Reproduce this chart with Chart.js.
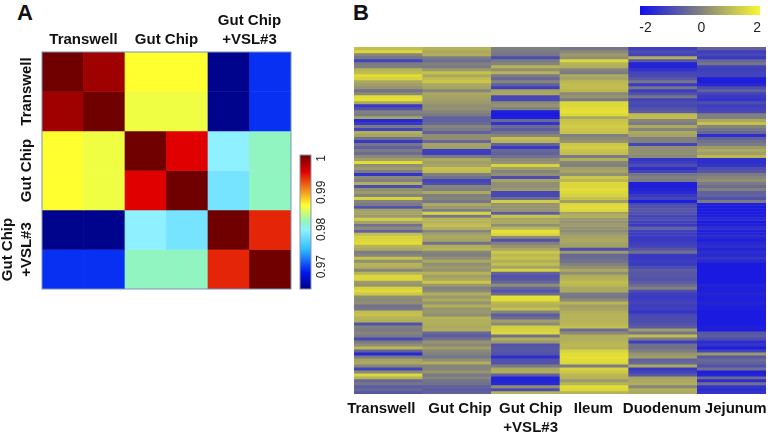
<!DOCTYPE html>
<html>
<head>
<meta charset="utf-8">
<script src="https://cdn.jsdelivr.net/npm/chart.js@4/dist/chart.umd.min.js"></script>
<style>
    body { margin: 0; background: #fff; width: 768px; height: 434px; overflow: hidden; position: relative; }
    canvas { position: absolute; }
    .panel { position: absolute; font: bold 22px "Liberation Sans", Arial, sans-serif; color: #111; line-height: 23px; }
</style>
</head>
<body>
<div class="panel" style="left:17px;top:1px">A</div>
<div class="panel" style="left:353px;top:1px">B</div>
<canvas id="corrChart" width="298" height="296" style="left:0;top:0"></canvas>
<canvas id="corrBar" width="50" height="150" style="left:296px;top:148px"></canvas>
<canvas id="exprChart" width="424" height="394" style="left:344px;top:40px"></canvas>
<canvas id="exprBar" width="138" height="40" style="left:630px;top:0"></canvas>
<script>
// panel A, correlation between samples
const corrGroups = ["Transwell", "Gut Chip", ["Gut Chip", "+VSL#3"]];
const corrSamples = ["T1", "T2", "G1", "G2", "V1", "V2"];
const corrRow1 = [1, 0.9981, 0.9865, 0.9865, 0.9645, 0.9694];
const corrRow2 = [0.9981, 1, 0.9859, 0.9859, 0.9645, 0.9694];
const corrRow3 = [0.9865, 0.9859, 1, 0.9955, 0.9798, 0.982];
const corrRow4 = [0.9865, 0.9859, 0.9955, 1, 0.9785, 0.982];
const corrRow5 = [0.9645, 0.9645, 0.9798, 0.9785, 1, 0.9942];
const corrRow6 = [0.9694, 0.9694, 0.982, 0.982, 0.9942, 1];
const corrRows = [corrRow1, corrRow2, corrRow3, corrRow4, corrRow5, corrRow6];
const corrTicks = [1, 0.99, 0.98, 0.97];
const corrMin = 0.964;
const corrMax = 1;

// panel B, expression by column, one value per row from top to bottom
const exprLabels = ["Transwell", "Gut Chip", ["Gut Chip", "+VSL#3"], "Ileum", "Duodenum", "Jejunum"];
const transwell = [
    1.2,1.7,.1,-.2,-1.2,-.1,0,1,1.2,1.8,1.6,.8,.6,.4,-.3,.2,1.8,1.9,.8,-1.4,
    -.9,0,-.1,.7,-1.7,-1.4,-.1,-1.2,.9,.7,-.3,-1.4,-.2,-.6,-.1,-.4,.2,.6,1.8,.3,
    .5,-.1,-1.5,.2,0,.9,-1,.3,.5,.1,1.6,.1,-.1,-.9,.6,.7,.5,1.5,.7,-.3,
    .2,-.6,1.2,1.6,1.7,1.8,1,.8,-.1,.1,1.3,.3,1,.9,.1,1,1.7,1.7,.5,.4,
    1.6,1.8,1.4,.3,.2,.3,-.3,-.2,1.2,1.3,1,.9,-.9,0,-.1,.1,-.1,-1.1,-.1,.3,
    1.1,-.6,-1.7,-.1,.7,.8,.1,-1.2,.2,1.7,1,-.5,-.2,-.7,-.5,-.8
];
const gutChip = [
    1,.8,.9,-.1,-.4,0,-.1,.5,1.3,.8,1.2,1.4,.8,.7,.1,.8,.7,.6,.5,.3,
    .4,.1,-.1,-.6,-.6,-.5,.1,-.1,-.6,.3,.3,-.5,.7,.6,-1.3,-1.3,-.1,.8,.6,.7,
    1.3,1.2,0,-.3,-1.2,-1,.1,0,.8,0,.1,-.2,.8,.5,-.1,1.6,-.2,1,1,1.2,
    .9,.1,.6,.8,.7,-.3,.9,1,.1,0,.3,.8,.3,.5,.4,1,.6,.8,1.4,.5,
    0,.2,.9,.5,.8,.4,.9,.4,.5,.3,1,.9,.9,.8,.9,-.5,-.7,-.3,.4,.2,
    .6,.2,0,-.2,.3,.9,.1,.1,.4,-.1,.1,-.2,-.3,-.6,-.7,-.6
];
const gutChipVsl = [
    0,-.1,-.2,-1,-.1,.1,1,.3,1,-.1,-.5,.1,-.6,-1.3,.7,.8,-1.1,-1.1,.2,.4,
    0,-1.9,-2,-1.9,-.5,-1.5,-.4,-.7,-.3,.1,1.2,1,-.6,-1.4,-.5,-.6,-.3,.2,.4,1.6,
    .6,.1,.3,-1,.7,.3,.3,.5,-1.1,-1.1,-.4,1.5,.4,.4,.4,-.7,1.3,.7,.8,.3,
    1,1.9,1.7,.2,-.9,0,.4,.8,1.4,1.1,1.3,.9,1.2,.7,1.6,-.6,-.9,-.8,-.5,.3,
    -.5,-.9,-.4,1.9,1.8,1.1,.9,1.3,.1,-.7,-.4,.6,.2,1.5,1.6,1.7,-.3,.9,.5,-.9,
    -.8,-.8,-.9,-1.6,-.9,-.9,-.1,.8,.9,-.6,-1.8,-1.8,-1.7,.3,-1,1
];
const ileum = [
    -.2,.2,.5,.3,1.7,1,.9,.1,-.1,.8,.7,1.1,1.2,1.2,1.1,.2,.4,-.1,1.7,1.7,
    1.8,1.9,1.7,.8,1.3,1.4,1.5,1.4,1.3,0,.2,.4,1.4,1.5,1.3,1.2,-.1,.9,.1,0,
    .6,.7,.3,1.4,1.1,1.7,1.7,1.8,1.7,1.6,1.3,.6,1.7,1.8,1.7,.7,.9,.5,.4,.5,
    .4,.2,.5,.7,.8,.7,.6,-1,.5,-.5,-.4,-.3,0,.3,.8,.3,.9,1,1.2,1.1,
    .8,.8,-.1,-.2,.2,1,.6,.7,.9,1,1,1,1.1,1.2,-.4,.2,.9,.9,1,1.1,
    1,1.6,1.8,1.9,1.8,1.7,-.1,1.6,1.4,1.1,1,.5,1,1.8,1.7,1
];
const duodenum = [
    -1.3,-1,-1.2,.9,-.8,-1.8,-1.8,-1.5,-1.2,-1.1,-.8,-.2,-1.4,-.2,-1.3,-.9,-.2,-1.2,-1,-1.1,
    -.9,-.7,1.2,1.2,.1,-.1,.8,.1,.8,.7,0,0,-1.2,.3,.3,.3,.2,-1.5,-1.3,-1,
    -1.6,-1.2,-.2,0,-.1,-1.9,-1.9,-1.8,-1.7,-1.4,-1.2,-1.9,-1.1,-.9,-.8,-.9,-1.2,-1,-1.2,-1.4,
    -.6,-1.3,-1.3,-1.4,-1.4,-1.3,-1.2,-.8,-.3,-1.4,-1.4,-1.3,-1.4,-1,-.7,-.8,-.8,-.9,-.7,-.4,
    0,-1,-1.3,-1.4,-1.3,-1.2,-1.3,-1.3,-1.5,-1.1,-1,-1,-.9,-.7,.6,-.2,1.2,-.1,-1.3,-.3,
    -.3,0,.4,.6,-.6,-.5,.8,-1.4,-1.2,-.8,.7,.8,.9,.1,.9,.8
];
const jejunum = [
    -.6,-1.3,-1.1,-1.4,-.5,-.2,-1.2,-1.3,-1.2,-1.2,-1.9,-1.9,-1.7,-1,-.6,-1.2,-1.4,-1.5,-1,-1.3,
    -1.2,-1.1,0,0,.8,1.3,.1,-.2,-.5,-1.6,-.6,-.3,-.1,.5,.8,.6,1.1,-1.6,-1.6,-1.5,
    -1,-.8,-.1,.1,.3,-.1,-.4,0,-.6,-.6,-.9,-.1,-1.9,-2,-2,-2,-1.9,-1.7,-2,-1.9,
    -1.6,-1.9,-1.8,-1.7,-1.9,-1.7,-1.6,-1.8,-1.6,-1.7,-1.5,-1.7,-2,-2,-2,-2,-2,-2,-2,-1.8,
    -1.9,-1.9,-1.8,-1.9,-1.9,-1.8,-1.9,-1.9,-2,-2,-2,-2,-2,-1.9,-1.9,-.8,-.7,-1,-1.6,-1.5,
    -1.9,-1.2,.5,-.8,-.4,-.6,-.9,-.3,-1.9,-1.8,-.4,-1.6,-.3,-1.5,-1.6,-1.5
];
const exprColumns = [transwell, gutChip, gutChipVsl, ileum, duodenum, jejunum];
const exprTicks = [-2, 0, 2];
const exprLegendRange = [-2.2, 2.1];

// colours, the reference has a washed out jet map so the stops are picked from it
const textFont = '"Liberation Sans", Arial, sans-serif';
const jetStops = ["#000080", "#0018f0", "#30c0ff", "#90f0ff", "#90f5c0", "#ffff30", "#e00000", "#700000"];
const jetPositions = [0, 0.125, 0.3, 0.44, 0.5, 0.625, 0.875, 1];
const exprBlue = [26, 26, 224];
const exprGrey = [128, 128, 128];
const exprYellow = [236, 230, 48];

function hexToRgb(hex) {
    return [1, 3, 5].map(i => parseInt(hex.slice(i, i + 2), 16));
}

function mix(a, b, t) {
    const c = a.map((v, i) => Math.round(v + (b[i] - v) * t));
    return `rgb(${c[0]},${c[1]},${c[2]})`;
}

function jetColor(value) {
    const t = (value - corrMin) / (corrMax - corrMin);
    for (let i = 1; i < jetPositions.length; i++) {
        if (t <= jetPositions[i]) {
            const f = (t - jetPositions[i - 1]) / (jetPositions[i] - jetPositions[i - 1]);
            return mix(hexToRgb(jetStops[i - 1]), hexToRgb(jetStops[i]), f);
        }
    }
    return jetStops[jetStops.length - 1];
}

function exprColor(value) {
    return value < 0 ? mix(exprGrey, exprBlue, -value / 2) : mix(exprGrey, exprYellow, value / 2);
}

// draws the rotated y labels and the frame, the library has no rotated y ticks
const extras = {
    id: "extras",
    afterDatasetsDraw(chart, args, opts) {
        const { ctx, chartArea } = chart;
        ctx.save();
        if (opts.frame) {
            ctx.strokeStyle = opts.frame;
            ctx.lineWidth = 1;
            ctx.strokeRect(chartArea.left, chartArea.top, chartArea.width, chartArea.height);
        }
        ctx.fillStyle = opts.color || "#111";
        ctx.font = opts.font || `bold 15px ${textFont}`;
        ctx.textBaseline = "middle";
        (opts.side || []).forEach(item => {
            const y = chart.scales.y.getPixelForValue(item.value);
            [].concat(item.text).forEach((line, i, lines) => {
                ctx.save();
                ctx.translate(item.x - (lines.length - 1 - i) * 19, y);
                ctx.rotate(-Math.PI / 2);
                ctx.textAlign = item.align || "center";
                ctx.fillText(line, 0, 0);
                ctx.restore();
            });
        });
        ctx.textAlign = "center";
        (opts.bottom || []).forEach((item, n) => {
            const x = chart.scales.x.getPixelForValue(n) + item.nudge;
            [].concat(item.text).forEach((line, i) => {
                ctx.fillText(line, x, chartArea.bottom + 15 + i * 19);
            });
        });
        ctx.restore();
    }
};

// one stacked dataset per row, every bar is one cell
function rowDatasets(labels, rows, colorFn) {
    return rows.map(row => ({
        data: labels.map(() => 1),
        backgroundColor: row.map(colorFn),
        borderWidth: 0,
        barPercentage: 1,
        categoryPercentage: 1
    }));
}

const off = { legend: { display: false }, tooltip: { enabled: false } };

new Chart(document.getElementById("corrChart"), {
    type: "bar",
    data: { labels: corrSamples, datasets: rowDatasets(corrSamples, corrRows, jetColor) },
    plugins: [extras],
    options: {
        responsive: false,
        animation: false,
        layout: { padding: { left: 42, right: 7, bottom: 7 } },
        plugins: {
            ...off,
            extras: {
                frame: "#7f93b2",
                side: corrGroups.map((text, i) => ({ text, value: i * 2 + 1, x: 27 }))
            }
        },
        scales: {
            x: { stacked: true, display: false },
            y: { stacked: true, display: false, reverse: true, min: 0, max: corrRows.length },
            groups: {
                type: "category",
                axis: "x",
                position: "top",
                labels: corrGroups,
                offset: true,
                grid: { display: false },
                border: { display: false },
                ticks: { color: "#111", padding: -5, maxRotation: 0, font: { family: textFont, size: 15, weight: "bold", lineHeight: 1.25 } },
                afterFit(scale) { scale.height = 52; }
            }
        }
    }
});

// colour bar of panel A
new Chart(document.getElementById("corrBar"), {
    type: "bar",
    data: {
        labels: [""],
        datasets: [{
            data: [[corrMin, corrMax]],
            barPercentage: 1,
            categoryPercentage: 1,
            borderWidth: 0,
            borderSkipped: false,
            backgroundColor(context) {
                const area = context.chart.chartArea;
                if (!area) return "#000";
                const g = context.chart.ctx.createLinearGradient(0, area.bottom, 0, area.top);
                jetStops.forEach((c, i) => g.addColorStop(jetPositions[i], c));
                return g;
            }
        }]
    },
    plugins: [extras],
    options: {
        responsive: false,
        animation: false,
        layout: { padding: { left: 4, right: 35, top: 7, bottom: 9 } },
        plugins: {
            ...off,
            extras: {
                frame: "#8a97ad",
                color: "#222",
                font: `12px ${textFont}`,
                side: corrTicks.map(v => ({ text: String(v), value: v, x: 26, align: v === corrMax ? "right" : "center" }))
            }
        },
        scales: {
            x: { display: false },
            y: { display: false, min: corrMin, max: corrMax }
        }
    }
});

new Chart(document.getElementById("exprChart"), {
    type: "bar",
    data: {
        labels: exprLabels.map((l, i) => i),
        datasets: rowDatasets(exprLabels, transwell.map((v, r) => exprColumns.map(c => c[r])), exprColor)
    },
    plugins: [extras],
    options: {
        responsive: false,
        animation: false,
        layout: { padding: { left: 10, right: 2, top: 7, bottom: 40 } },
        plugins: {
            ...off,
            extras: {
                bottom: exprLabels.map((text, i) => ({ text, nudge: [-7, 3, 5, -1, -1, 4][i] }))
            }
        },
        scales: {
            x: { stacked: true, display: false },
            y: { stacked: true, display: false, reverse: true, min: 0, max: transwell.length }
        }
    }
});

// colour bar of panel B
new Chart(document.getElementById("exprBar"), {
    type: "bar",
    data: {
        labels: [""],
        datasets: [{
            data: [exprLegendRange],
            barPercentage: 1,
            categoryPercentage: 1,
            borderWidth: 0,
            borderSkipped: false,
            backgroundColor(context) {
                const area = context.chart.chartArea;
                if (!area) return "#000";
                const g = context.chart.ctx.createLinearGradient(area.left, 0, area.right, 0);
                g.addColorStop(0, "#1010f0");
                g.addColorStop(0.5, "#808080");
                g.addColorStop(1, "#f8f830");
                return g;
            }
        }]
    },
    options: {
        indexAxis: "y",
        responsive: false,
        animation: false,
        layout: { padding: { left: 10, right: 8, top: 6 } },
        plugins: off,
        scales: {
            y: { display: false },
            x: {
                min: exprLegendRange[0],
                max: exprLegendRange[1],
                grid: { display: false },
                border: { display: false },
                afterBuildTicks(axis) { axis.ticks = exprTicks.map(value => ({ value })); },
                ticks: { color: "#222", padding: -3, maxRotation: 0, font: { family: textFont, size: 14 } },
                afterFit(scale) { scale.height = 25; }
            }
        }
    }
});
</script>
</body>
</html>
